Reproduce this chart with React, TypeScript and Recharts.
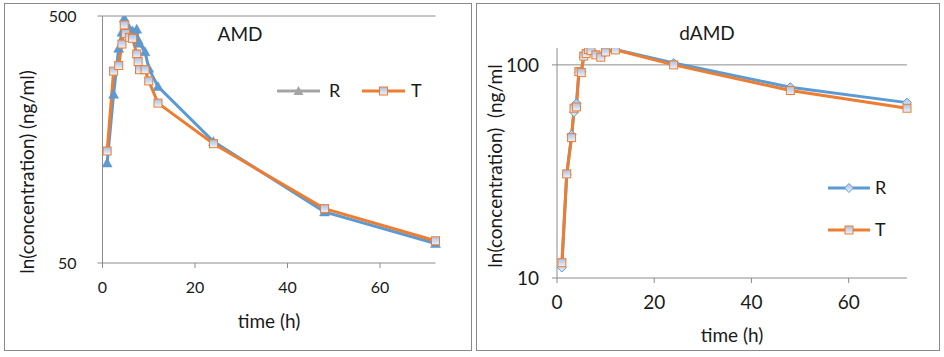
import React from 'react';
import { LineChart, Line, XAxis, YAxis, CartesianGrid, Customized } from 'recharts';

// AMD panel (left)
const amdTime = [1, 2.4, 3.5, 4.2, 4.7, 5, 5.8, 6.5, 7.4, 7.7, 8, 9.2, 10, 12, 24, 48, 72];
const amdR = [127, 241, 370, 430, 490, 455, 445, 435, 442, 400, 388, 358, 307, 259, 155, 80.5, 60];
const amdT = [142, 299, 315, 385, 460, 425, 410, 406, 351, 327, 303, 303, 273, 222, 152, 83, 61.5];

// dAMD panel (right)
const damdTime = [1, 2, 3, 3.5, 4, 4.5, 5, 5.5, 6, 6.5, 7, 8, 9, 10, 12, 24, 48, 72];
const damdR = [11.2, 30.5, 47, 60, 66, 92, 93, 109, 113, 118, 117, 112, 109, 115, 118, 102, 78.6, 66.5];
const damdT = [11.8, 30.8, 45.6, 62.6, 63.5, 93, 92, 110, 113, 118, 116.7, 111.4, 108.7, 115, 117.6, 100, 75.8, 62.6];

const xTicks = [0, 20, 40, 60];
const amdTicks = [50, 500];
const damdTicks = [10, 100];

const BLUE = '#5B9BD5';
const ORANGE = '#ED7D31';
const GREY = '#A5A5A5';
const AXIS = '#8C8C8C';
const INK = '#1a1a1a';
const FONT = 'Lato, "Open Sans", sans-serif';

const amdData = amdTime.map((t, i) => ({ t, R: amdR[i], T: amdT[i] }));
const damdData = damdTime.map((t, i) => ({ t, R: damdR[i], T: damdT[i] }));

const square = (p: any) => {
  if (p.cx == null || p.cy == null) return <g key={`sq${p.index}`} />;
  return (
    <rect key={`sq${p.index}`} x={p.cx - 4} y={p.cy - 4} width={8} height={8}
      fill="url(#mkFill)" stroke={ORANGE} strokeWidth={1} />
  );
};

const triangle = (p: any) => {
  if (p.cx == null || p.cy == null) return <g key={`tr${p.index}`} />;
  const { cx, cy } = p;
  return (
    <polygon key={`tr${p.index}`} points={`${cx},${cy - 5} ${cx + 5},${cy + 4} ${cx - 5},${cy + 4}`}
      fill={BLUE} stroke="#6f8fb0" strokeWidth={0.5} />
  );
};

const diamond = (p: any) => {
  if (p.cx == null || p.cy == null) return <g key={`dm${p.index}`} />;
  const { cx, cy } = p;
  return (
    <polygon key={`dm${p.index}`} points={`${cx},${cy - 4.5} ${cx + 4.5},${cy} ${cx},${cy + 4.5} ${cx - 4.5},${cy}`}
      fill="url(#mkFill)" stroke={BLUE} strokeWidth={1} />
  );
};

// titles, axis titles and legend of the AMD panel
const AmdText = () => (
  <g fill={INK}>
    <text x={240} y={34} dy="0.36em" textAnchor="middle" fontSize={19}>AMD</text>
    <text x={269} y={321} dy="0.36em" textAnchor="middle" fontSize={19}>time (h)</text>
    <text x={27} y={172} dy="0.36em" textAnchor="middle" fontSize={19} transform="rotate(-90 27 172)">
      ln(concentration) (ng/ml)
    </text>
    <g transform="translate(270,78)">
      <line x1={7} y1={13} x2={50} y2={13} stroke={GREY} strokeWidth={3} />
      <polygon points="28.5,8 33.5,17 23.5,17" fill={GREY} />
      <text x={59} y={13} dy="0.36em" fontSize={18}>R</text>
      <line x1={92} y1={13} x2={135} y2={13} stroke={ORANGE} strokeWidth={3} />
      <rect x={109.5} y={9} width={8} height={8} fill="url(#mkFill)" stroke={ORANGE} strokeWidth={1} />
      <text x={141} y={13} dy="0.36em" fontSize={18}>T</text>
    </g>
  </g>
);

const DamdText = () => (
  <g fill={INK}>
    <text x={235} y={33} dy="0.36em" textAnchor="middle" fontSize={19}>dAMD</text>
    <text x={260} y={335} dy="0.36em" textAnchor="middle" fontSize={19}>time (h)</text>
    <text x={23} y={166} dy="0.36em" textAnchor="middle" fontSize={19} transform="rotate(-90 23 166)"
      style={{ whiteSpace: 'pre' }}>
      {'ln(concentration)  (ng/ml'}
    </text>
    <g transform="translate(350,170)">
      <line x1={6} y1={18} x2={48} y2={18} stroke={BLUE} strokeWidth={3} />
      <polygon points="27,13.5 31.5,18 27,22.5 22.5,18" fill="url(#mkFill)" stroke={BLUE} strokeWidth={1} />
      <text x={53} y={18} dy="0.36em" fontSize={18}>R</text>
      <line x1={6} y1={60} x2={48} y2={60} stroke={ORANGE} strokeWidth={3} />
      <rect x={23} y={56} width={8} height={8} fill="url(#mkFill)" stroke={ORANGE} strokeWidth={1} />
      <text x={53} y={60} dy="0.36em" fontSize={18}>T</text>
    </g>
  </g>
);

const panelBox = (left: number, width: number): React.CSSProperties => ({
  position: 'absolute', left, top: 3, width, height: 348, border: '1px solid #8a8a8a', boxSizing: 'border-box',
});

export default function App() {
  return (
    <div style={{ position: 'absolute', left: 0, top: 0, width: 944, height: 357, background: '#fff', fontFamily: FONT, overflow: 'hidden' }}>
      <svg width={0} height={0} style={{ position: 'absolute' }}>
        <defs>
          <linearGradient id="mkFill" x1="0" y1="0" x2="0" y2="1">
            <stop offset="0%" stopColor="#A9C0E6" />
            <stop offset="100%" stopColor="#EEF3FB" />
          </linearGradient>
        </defs>
      </svg>
      <div style={panelBox(4, 468)} />
      <div style={panelBox(476, 464)} />

      <div style={{ position: 'absolute', left: 0, top: 0 }}>
        <LineChart width={472} height={357} data={amdData} margin={{ top: 16, right: 36.5, bottom: 34, left: 0 }}>
          <CartesianGrid vertical={false} horizontalValues={[500]} stroke={AXIS} strokeWidth={1} />
          <XAxis dataKey="t" type="number" domain={[0, 72]} ticks={xTicks} height={60}
            axisLine={{ stroke: AXIS }} tickLine={{ stroke: AXIS }} tickSize={5} tickMargin={14}
            tick={{ fontSize: 16, fill: INK }} />
          <YAxis type="number" scale="log" domain={[50, 500]} ticks={amdTicks} width={102.5}
            axisLine={{ stroke: AXIS }} tickLine={{ stroke: AXIS }} tickSize={5} tickMargin={21}
            tick={{ fontSize: 16, fill: INK }} allowDataOverflow />
          <Line dataKey="R" stroke={BLUE} strokeWidth={3} dot={triangle} activeDot={false} isAnimationActive={false} />
          <Line dataKey="T" stroke={ORANGE} strokeWidth={3} dot={square} activeDot={false} isAnimationActive={false} />
          <Customized component={AmdText} />
        </LineChart>
      </div>

      <div style={{ position: 'absolute', left: 472, top: 0 }}>
        <LineChart width={472} height={357} data={damdData} margin={{ top: 48, right: 37, bottom: 19, left: 0 }}>
          <CartesianGrid vertical={false} horizontalValues={[100]} stroke={AXIS} strokeWidth={1} />
          <XAxis dataKey="t" type="number" domain={[0, 72]} ticks={xTicks} height={60}
            axisLine={{ stroke: AXIS }} tickLine={{ stroke: AXIS }} tickSize={5} tickMargin={13}
            tick={{ fontSize: 19, fill: INK }} />
          <YAxis type="number" scale="log" domain={[10, 120]} ticks={damdTicks} width={85}
            axisLine={{ stroke: AXIS }} tickLine={{ stroke: AXIS }} tickSize={5} tickMargin={13}
            tick={{ fontSize: 19, fill: INK }} allowDataOverflow />
          <Line dataKey="R" stroke={BLUE} strokeWidth={3} dot={diamond} activeDot={false} isAnimationActive={false} />
          <Line dataKey="T" stroke={ORANGE} strokeWidth={3} dot={square} activeDot={false} isAnimationActive={false} />
          <Customized component={DamdText} />
        </LineChart>
      </div>
    </div>
  );
}
